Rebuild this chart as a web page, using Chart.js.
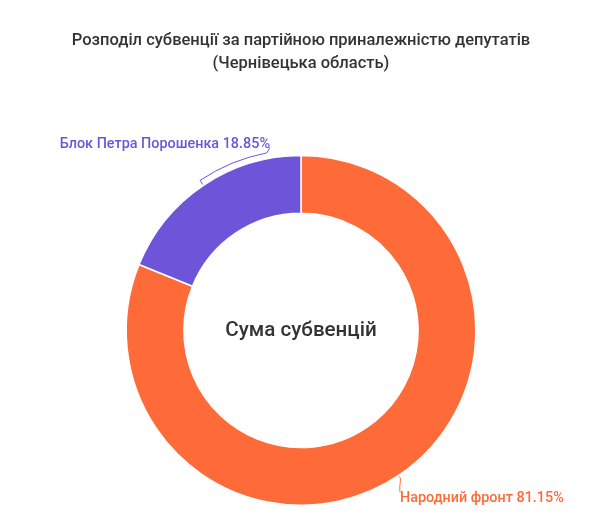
<!DOCTYPE html>
<html>
<head>
<meta charset="utf-8">
<script src="https://cdn.jsdelivr.net/npm/chart.js@4.4.0/dist/chart.umd.min.js"></script>
<style>
    html, body { margin: 0; padding: 0; background: #fff; }
    #wrap { width: 602px; height: 523px; }
</style>
</head>
<body>
<div id="wrap"><canvas id="subventionChart" width="602" height="523"></canvas></div>
<script>
    // Data
    const parties = ['Народний фронт', 'Блок Петра Порошенка'];
    const shares = [81.15, 18.85];
    const partyColors = ['#ff6a39', '#6d55d9'];
    const titleLines = ['Розподіл субвенції за партійною приналежністю депутатів', '(Чернівецька область)'];
    const centerText = 'Сума субвенцій';

    // Center label + curved leader lines
    const labelsPlugin = {
        id: 'donutLabels',
        afterDraw: function (chart) {
            const ctx = chart.ctx;
            const arcs = chart.getDatasetMeta(0).data;
            const cx = arcs[0].x;
            const cy = arcs[0].y;
            const R = arcs[0].outerRadius;

            ctx.save();
            ctx.fillStyle = '#333333';
            ctx.font = '500 20.6px Roboto';
            ctx.textAlign = 'center';
            ctx.textBaseline = 'middle';
            ctx.fillText(centerText, cx, cy);

            ctx.font = '500 14.4px Roboto';
            ctx.lineWidth = 1;
            ctx.textBaseline = 'alphabetic';

            arcs.forEach(function (arc, i) {
                const mid = (arc.startAngle + arc.endAngle) / 2;
                const text = parties[i] + ' ' + shares[i].toFixed(2) + '%';
                ctx.strokeStyle = partyColors[i];
                ctx.fillStyle = partyColors[i];
                ctx.beginPath();
                if (mid > Math.PI) {
                    // upper-left slice: hook that follows the rim
                    const r2 = R + 6;
                    ctx.moveTo(cx + Math.cos(mid) * (R + 1), cy + Math.sin(mid) * (R + 1));
                    ctx.lineTo(cx + Math.cos(mid) * r2, cy + Math.sin(mid) * r2);
                    const stop = arc.endAngle - 0.19;
                    ctx.arc(cx, cy, r2, mid, stop, false);
                    const lx = cx - 31, ly = cy - 183;
                    ctx.lineTo(lx, ly);
                    ctx.stroke();
                    ctx.textAlign = 'right';
                    ctx.fillText(text, lx, ly + 1);
                } else {
                    // lower-right slice: short drop to the label
                    const sx = cx + Math.cos(mid) * (R + 1);
                    const sy = cy + Math.sin(mid) * (R + 1);
                    const lx = cx + 99, ly = cy + 162;
                    ctx.moveTo(sx, sy);
                    ctx.bezierCurveTo(sx + 3, sy + 3, lx - 1, ly - 10, lx, ly);
                    ctx.stroke();
                    ctx.textAlign = 'left';
                    ctx.fillText(text, lx, ly + 10);
                }
            });
            ctx.restore();
        }
    };

    new Chart(document.getElementById('subventionChart'), {
        type: 'doughnut',
        data: {
            labels: parties,
            datasets: [{
                data: shares,
                backgroundColor: partyColors,
                borderColor: '#ffffff',
                borderWidth: 1.5,
                hoverOffset: 0
            }]
        },
        options: {
            responsive: false,
            animation: false,
            cutout: '67%',
            layout: {
                padding: { top: 0, bottom: 17, left: 0, right: 0 }
            },
            plugins: {
                legend: { display: false },
                tooltip: { enabled: false },
                title: {
                    display: true,
                    text: titleLines,
                    color: '#333333',
                    font: { family: 'Roboto', size: 16.5, weight: '500', lineHeight: 1.42 },
                    padding: { top: 29, bottom: 79 }
                }
            }
        },
        plugins: [labelsPlugin]
    });
</script>
</body>
</html>
